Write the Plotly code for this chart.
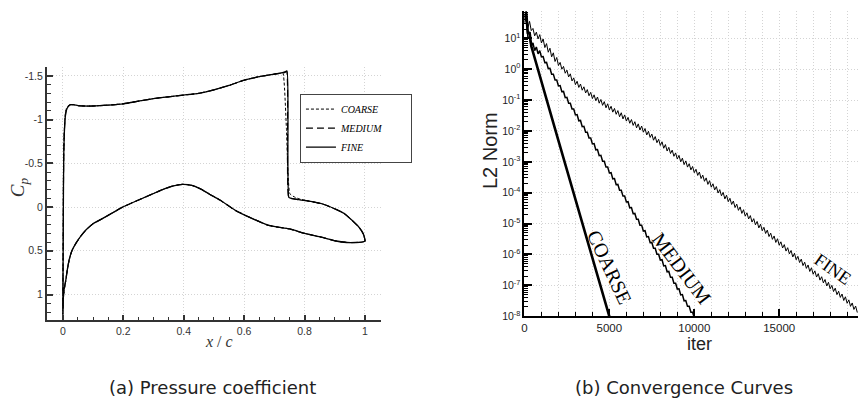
import plotly.graph_objects as go

W, H = 858, 405

# ---------------- (a) Pressure coefficient data ----------------
UPPER_X = [0.0, 0.001, 0.002, 0.003, 0.005, 0.008, 0.012, 0.018, 0.025, 0.035, 0.05, 0.07,
           0.10, 0.15, 0.20, 0.25, 0.30, 0.35, 0.40, 0.45, 0.50, 0.55, 0.60, 0.65, 0.70, 0.72]
FINE_UPPER_CP = [1.16, 0.50, -0.20, -0.60, -0.85, -1.03, -1.11, -1.15, -1.17, -1.17, -1.16, -1.155,
                 -1.155, -1.165, -1.18, -1.21, -1.24, -1.26, -1.28, -1.30, -1.34, -1.39, -1.45, -1.49, -1.52, -1.53]
MEDIUM_UPPER_CP = [1.23, 0.45, -0.25, -0.62, -0.87, -1.04, -1.12, -1.15, -1.17, -1.17, -1.16, -1.155,
                   -1.155, -1.165, -1.18, -1.21, -1.24, -1.26, -1.28, -1.30, -1.34, -1.39, -1.45, -1.49, -1.52, -1.53]
COARSE_UPPER_CP = [1.27, 0.40, -0.30, -0.65, -0.90, -1.06, -1.13, -1.16, -1.17, -1.17, -1.16, -1.155,
                   -1.155, -1.165, -1.18, -1.21, -1.24, -1.26, -1.28, -1.30, -1.34, -1.39, -1.45, -1.49, -1.52, -1.53]

FINE_AFT_X = [0.735, 0.742, 0.748, 0.755, 0.77, 0.79, 0.82, 0.86, 0.90, 0.93, 0.96, 0.98, 0.995, 1.0]
FINE_AFT_CP = [-1.545, -1.555, -0.11, -0.10, -0.09, -0.08, -0.065, -0.035, 0.02, 0.07, 0.16, 0.23, 0.31, 0.39]
MEDIUM_AFT_X = [0.735, 0.741, 0.747, 0.755, 0.77, 0.79, 0.82, 0.86, 0.90, 0.93, 0.96, 0.98, 0.995, 1.0]
MEDIUM_AFT_CP = [-1.54, -1.55, -0.12, -0.10, -0.09, -0.08, -0.065, -0.035, 0.02, 0.07, 0.16, 0.23, 0.31, 0.39]
COARSE_AFT_X = [0.72, 0.728, 0.740, 0.752, 0.77, 0.79, 0.82, 0.86, 0.90, 0.93, 0.96, 0.98, 0.995, 1.0]
COARSE_AFT_CP = [-1.53, -1.54, -0.90, -0.15, -0.11, -0.085, -0.065, -0.035, 0.02, 0.07, 0.16, 0.23, 0.31, 0.39]

LOWER_X = [0.0, 0.002, 0.005, 0.01, 0.015, 0.021, 0.03, 0.044, 0.06, 0.077, 0.10, 0.132, 0.165, 0.198,
           0.25, 0.297, 0.33, 0.363, 0.396, 0.43, 0.46, 0.484, 0.52, 0.572, 0.62, 0.681, 0.75, 0.80,
           0.857, 0.90, 0.94, 0.97, 0.99, 1.0]
FINE_LOWER_CP = [1.16, 1.00, 0.92, 0.83, 0.71, 0.60, 0.50, 0.41, 0.33, 0.26, 0.19, 0.13, 0.065, 0.0,
                 -0.08, -0.15, -0.20, -0.24, -0.26, -0.245, -0.20, -0.15, -0.08, 0.04, 0.12, 0.21, 0.25, 0.30,
                 0.345, 0.385, 0.405, 0.405, 0.40, 0.39]
MEDIUM_LOWER_CP = [1.23, 1.02, 0.93, 0.83, 0.71, 0.60, 0.50, 0.41, 0.33, 0.26, 0.19, 0.13, 0.065, 0.0,
                   -0.08, -0.15, -0.20, -0.24, -0.26, -0.245, -0.20, -0.15, -0.08, 0.04, 0.12, 0.21, 0.25, 0.30,
                   0.345, 0.385, 0.405, 0.405, 0.40, 0.39]
COARSE_LOWER_CP = [1.27, 1.04, 0.94, 0.84, 0.72, 0.61, 0.50, 0.41, 0.33, 0.26, 0.19, 0.13, 0.065, 0.0,
                   -0.08, -0.15, -0.20, -0.24, -0.26, -0.245, -0.20, -0.15, -0.08, 0.04, 0.12, 0.21, 0.25, 0.30,
                   0.345, 0.385, 0.405, 0.405, 0.40, 0.39]

X_TICKS = [0, 0.2, 0.4, 0.6, 0.8, 1.0]
X_TICK_TEXT = ["0", "0.2", "0.4", "0.6", "0.8", "1"]
Y_TICKS = [-1.5, -1, -0.5, 0, 0.5, 1]
Y_TICK_TEXT = ["-1.5", "-1", "-0.5", "0", "0.5", "1"]

# ---------------- (b) Convergence data (log10 of L2 norm) ----------------
FINE_ITER = list(range(0, 19601, 100))
FINE_LOG = [
    1.70, 1.88, 1.35, 1.55, 1.25, 1.32, 1.08, 1.20, 0.98, 1.12,
    0.85, 0.98, 0.70, 0.83, 0.55, 0.68, 0.40, 0.53, 0.25, 0.38,
    0.12, 0.22, 0.00, 0.09, -0.13, -0.03, -0.25, -0.15, -0.38, -0.28,
    -0.50, -0.39, -0.59, -0.48, -0.68, -0.57, -0.77, -0.66, -0.86, -0.75,
    -0.95, -0.83, -1.02, -0.90, -1.10, -0.98, -1.17, -1.05, -1.25, -1.12,
    -1.32, -1.20, -1.39, -1.27, -1.46, -1.34, -1.54, -1.41, -1.61, -1.48,
    -1.68, -1.56, -1.75, -1.63, -1.82, -1.70, -1.90, -1.77, -1.97, -1.84,
    -2.04, -1.92, -2.13, -2.01, -2.21, -2.10, -2.30, -2.18, -2.38, -2.27,
    -2.47, -2.35, -2.56, -2.44, -2.65, -2.53, -2.73, -2.62, -2.82, -2.71,
    -2.91, -2.79, -3.00, -2.88, -3.09, -2.97, -3.17, -3.06, -3.26, -3.15,
    -3.35, -3.24, -3.44, -3.33, -3.54, -3.43, -3.63, -3.52, -3.73, -3.61,
    -3.82, -3.71, -3.91, -3.80, -4.01, -3.90, -4.10, -3.99, -4.20, -4.08,
    -4.29, -4.18, -4.38, -4.27, -4.48, -4.37, -4.57, -4.46, -4.67, -4.55,
    -4.76, -4.65, -4.85, -4.74, -4.95, -4.84, -5.04, -4.93, -5.14, -5.02,
    -5.23, -5.12, -5.32, -5.21, -5.42, -5.31, -5.51, -5.40, -5.61, -5.49,
    -5.70, -5.59, -5.79, -5.68, -5.89, -5.78, -5.98, -5.87, -6.08, -5.96,
    -6.17, -6.06, -6.26, -6.15, -6.36, -6.25, -6.45, -6.34, -6.55, -6.43,
    -6.64, -6.53, -6.73, -6.62, -6.83, -6.72, -6.92, -6.81, -7.02, -6.90,
    -7.11, -7.00, -7.20, -7.09, -7.30, -7.19, -7.39, -7.28, -7.49, -7.37,
    -7.58, -7.47, -7.68, -7.57, -7.78, -7.67, -7.88,
]

MEDIUM_ITER = list(range(0, 10001, 100))
MEDIUM_LOG = [
    1.50, 1.75, 1.05, 1.00, 0.75, 0.85, 0.60, 0.72, 0.50, 0.60,
    0.40, 0.41, 0.21, 0.22, 0.02, 0.03, -0.16, -0.16, -0.35, -0.35,
    -0.54, -0.53, -0.73, -0.72, -0.92, -0.91, -1.10, -1.10, -1.29, -1.29,
    -1.48, -1.47, -1.67, -1.66, -1.86, -1.85, -2.04, -2.04, -2.23, -2.23,
    -2.42, -2.41, -2.61, -2.60, -2.80, -2.79, -2.98, -2.98, -3.17, -3.17,
    -3.36, -3.35, -3.55, -3.54, -3.74, -3.73, -3.92, -3.92, -4.11, -4.11,
    -4.30, -4.29, -4.49, -4.48, -4.68, -4.67, -4.86, -4.86, -5.05, -5.05,
    -5.24, -5.23, -5.43, -5.42, -5.62, -5.61, -5.80, -5.80, -5.99, -5.99,
    -6.18, -6.17, -6.37, -6.36, -6.56, -6.55, -6.74, -6.74, -6.93, -6.93,
    -7.12, -7.11, -7.31, -7.30, -7.50, -7.49, -7.68, -7.68, -7.87, -7.87,
    -8.05,
]

COARSE_ITER = [0, 100, 200, 300, 400, 500, 1000, 1500, 2000, 2500, 3000, 3500, 4000, 4500, 5000, 5100]
COARSE_LOG = [1.60, 1.85, 1.15, 1.20, 0.75, 0.55, -0.40, -1.36, -2.31, -3.26, -4.21, -5.16, -6.11,
              -7.06, -8.01, -8.20]

ITER_TICKS = [0, 5000, 10000, 15000]
ITER_TICK_TEXT = ["0", "5000", "10000", "15000"]
DECADES = [-8, -7, -6, -5, -4, -3, -2, -1, 0, 1]

# ---------------- figure ----------------
def px(x):
    return x / W

def py(y):
    return 1 - y / H

fig = go.Figure()

PAD = "\u00a0" * 9
left_series = [
    ("COARSE", COARSE_AFT_X, COARSE_AFT_CP, COARSE_UPPER_CP, COARSE_LOWER_CP, "3px,2px", 1.0),
    ("MEDIUM", MEDIUM_AFT_X, MEDIUM_AFT_CP, MEDIUM_UPPER_CP, MEDIUM_LOWER_CP, "7px,4px", 1.2),
    ("FINE", FINE_AFT_X, FINE_AFT_CP, FINE_UPPER_CP, FINE_LOWER_CP, "solid", 1.3),
]
for name, ax, acp, ucp, lcp, dash, wd in left_series:
    xs = ax[::-1] + UPPER_X[::-1] + LOWER_X
    ys = acp[::-1] + ucp[::-1] + lcp
    fig.add_trace(go.Scatter(x=xs, y=ys, mode="lines", name=name + PAD,
                             line=dict(color="black", width=wd, dash=dash,
                                       shape="spline", smoothing=0.5),
                             xaxis="x", yaxis="y"))

right_series = [
    (COARSE_ITER, COARSE_LOG, 2.6),
    (MEDIUM_ITER, MEDIUM_LOG, 1.5),
    (FINE_ITER, FINE_LOG, 1.0),
]
for it, lg, wd in right_series:
    fig.add_trace(go.Scatter(x=it, y=[10 ** v for v in lg], mode="lines", showlegend=False,
                             line=dict(color="black", width=wd),
                             xaxis="x2", yaxis="y2"))

axcol = "#333333"
gridcol = "#d4d4d4"
GDASH = "1px,2px"

fig.update_layout(
    width=W, height=H, autosize=False,
    margin=dict(l=0, r=0, t=0, b=0),
    paper_bgcolor="white", plot_bgcolor="white",
    showlegend=True,
    legend=dict(x=px(298), y=py(95), xanchor="left", yanchor="top",
                bordercolor="#444444", borderwidth=1, bgcolor="white",
                font=dict(family="Liberation Serif", size=10, style="italic", color="black"),
                tracegroupgap=0, itemwidth=30),
    xaxis=dict(domain=[px(44), px(379.3)], range=[-0.053, 1.053], anchor="y",
               tickmode="array", tickvals=X_TICKS, ticktext=X_TICK_TEXT,
               ticks="inside", ticklen=5, tickwidth=1.5, tickcolor=axcol,
               showline=True, linecolor=axcol, linewidth=2,
               showgrid=True, gridcolor=gridcol, griddash=GDASH, gridwidth=1,
               zeroline=False,
               minor=dict(tickmode="linear", tick0=0, dtick=0.05, ticks="inside", ticklen=3,
                          tickwidth=1.2, tickcolor=axcol, showgrid=False),
               tickfont=dict(family="Liberation Sans", size=10.5, color="#333333")),
    yaxis=dict(domain=[py(325), py(68)], range=[1.293, -1.601], anchor="x",
               tickmode="array", tickvals=Y_TICKS, ticktext=Y_TICK_TEXT,
               ticks="inside", ticklen=6, tickwidth=1.5, tickcolor=axcol,
               showline=True, linecolor=axcol, linewidth=2,
               showgrid=True, gridcolor=gridcol, griddash=GDASH, gridwidth=1,
               zeroline=False,
               minor=dict(tickmode="linear", tick0=0, dtick=0.1, ticks="inside", ticklen=4,
                          tickwidth=1.2, tickcolor=axcol, showgrid=False),
               tickfont=dict(family="Liberation Sans", size=10.5, color="#333333")),
    xaxis2=dict(domain=[px(523.3), 1.0], range=[0, 19640], anchor="y2",
                tickmode="array", tickvals=ITER_TICKS, ticktext=ITER_TICK_TEXT,
                ticks="inside", ticklen=7, tickwidth=1.5, tickcolor="black",
                showline=True, linecolor="black", linewidth=2,
                showgrid=True, gridcolor=gridcol, griddash=GDASH, gridwidth=1,
                zeroline=False,
                minor=dict(tickmode="linear", tick0=0, dtick=1000, ticks="inside", ticklen=4,
                           tickwidth=1.2, tickcolor="black", showgrid=True,
                           gridcolor=gridcol, griddash=GDASH, gridwidth=1),
                tickfont=dict(family="Liberation Sans", size=11.5, color="#222222")),
    yaxis2=dict(domain=[py(321), py(10.7)], type="log", range=[-8, 1.9], anchor="x2",
                tickmode="array", tickvals=[10 ** d for d in DECADES],
                ticktext=["10<sup>%d</sup>" % d for d in DECADES],
                ticks="inside", ticklen=8, tickwidth=1.5, tickcolor="black",
                showline=True, linecolor="black", linewidth=2,
                showgrid=True, gridcolor=gridcol, griddash=GDASH, gridwidth=1,
                zeroline=False,
                minor=dict(dtick="D1", ticks="inside", ticklen=4, tickwidth=1.0,
                           tickcolor="black", showgrid=False),
                tickfont=dict(family="Liberation Sans", size=10.5, color="#222222")),
)

annotations = [
    dict(text="<i>C<sub>p</sub></i>", x=px(16), y=py(190), textangle=-90,
         font=dict(family="Liberation Serif", size=19, color="#333333")),
    dict(text="<i>x</i> / <i>c</i>", x=px(216.7), y=py(346.7),
         font=dict(family="Liberation Serif", size=16, color="#333333")),
    dict(text="L2 Norm", x=px(488), y=py(153), textangle=-90,
         font=dict(family="Liberation Sans", size=20, color="#222222")),
    dict(text="iter", x=px(699), y=py(349.5),
         font=dict(family="Liberation Sans", size=18, color="#222222")),
    dict(text="(a) Pressure coefficient", x=px(210), y=py(393),
         font=dict(family="DejaVu Sans", size=18, color="#222222")),
    dict(text="(b) Convergence Curves", x=px(683.6), y=py(393),
         font=dict(family="DejaVu Sans", size=18, color="#222222")),
]
for a in annotations:
    a.update(xref="paper", yref="paper", showarrow=False, xanchor="center", yanchor="middle")

line_labels = [
    ("COARSE", 5000, -6.41, 65, 20),
    ("MEDIUM", 9302, -6.46, 53, 20),
    ("FINE", 18150, -6.46, 35, 18),
]
for txt, xi, yl, ang, fs in line_labels:
    annotations.append(dict(text=txt, x=xi, y=yl, xref="x2", yref="y2", showarrow=False,
                            textangle=ang, xanchor="center", yanchor="middle",
                            font=dict(family="Liberation Serif", size=fs, color="black")))

fig.update_layout(annotations=annotations)

fig.write_html("out.html")
